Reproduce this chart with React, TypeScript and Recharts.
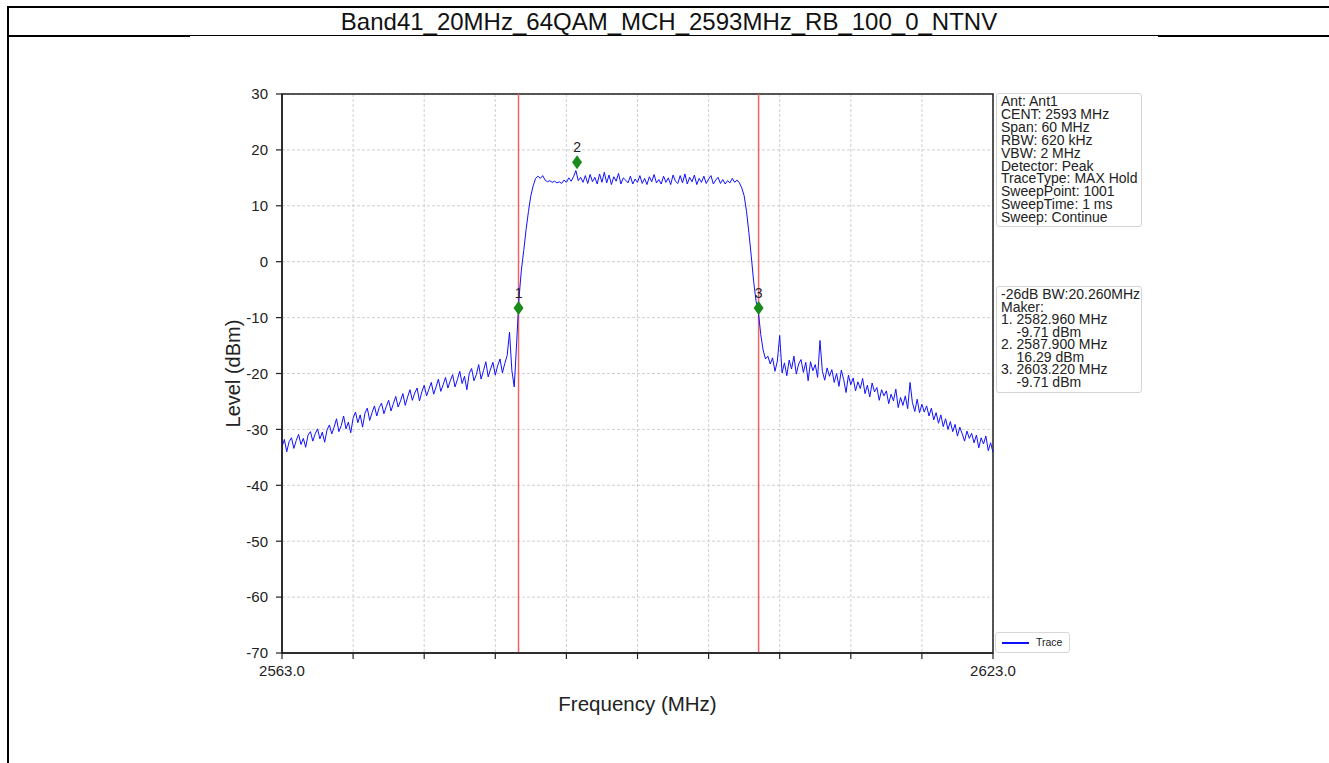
import React from 'react';
import {
  ComposedChart,
  Line,
  Scatter,
  XAxis,
  YAxis,
  CartesianGrid,
  ReferenceLine,
  ReferenceArea,
} from 'recharts';

const FONT = '"Liberation Sans", Arial, Helvetica, sans-serif';

// Sweep grid of the trace (MHz)
const START_FREQ = 2563;
const STEP = 0.2;

// Trace levels (dBm), 2563.0 .. 2582.6
const lowerSkirt = [
  -33.1, -31.8, -34.0, -32.2, -31.5, -33.4, -32.0, -30.9, -32.7, -31.6,
  -33.2, -31.0, -30.4, -32.1, -30.8, -29.9, -31.7, -30.5, -32.3, -30.1,
  -29.2, -30.8, -29.6, -28.1, -30.4, -29.3, -27.6, -29.9, -28.7, -30.6,
  -28.0, -26.9, -28.8, -27.4, -29.6, -27.1, -26.2, -28.4, -27.0, -25.8,
  -27.6, -26.1, -25.3, -27.2, -25.9, -24.8, -26.7, -25.4, -24.1, -26.0,
  -24.9, -23.6, -25.7, -24.2, -22.9, -24.8, -23.5, -22.6, -24.9, -23.3,
  -22.1, -24.0, -22.8, -21.6, -23.7, -22.4, -21.0, -23.2, -22.0, -20.7,
  -22.6, -21.3, -20.2, -22.4, -21.1, -19.6, -21.8, -20.5, -22.9, -20.0,
  -19.1, -21.3, -20.2, -18.4, -21.0, -19.5, -17.9, -20.6, -19.2, -18.0,
  -20.3, -18.6, -17.4, -19.9, -18.2, -16.8, -12.6, -19.5, -22.4,
];

// 2582.8 .. 2603.4
const channel = [
  -14.5, -6.5, -1.5, 2.0, 5.8, 9.0, 11.8, 13.6, 14.9,
  15.3, 14.9, 15.4, 14.6, 14.3, 14.5, 14.2, 14.4, 14.1, 14.3,
  14.0, 14.6, 14.2, 15.0, 14.4, 15.2, 16.3, 14.5, 15.1, 14.2,
  15.4, 14.0, 15.6, 14.3, 15.1, 13.9, 15.7, 14.2, 16.0, 14.1,
  15.5, 13.8, 15.2, 14.4, 15.8, 13.9, 15.0, 14.6, 14.1, 15.3,
  13.9, 14.8, 14.2, 15.4, 14.0, 14.9, 13.8, 15.2, 14.3, 15.6,
  14.1, 14.7, 13.9, 15.3, 14.2, 15.0, 13.8, 15.5, 14.4, 14.0,
  15.4, 14.1, 15.7, 13.9, 15.1, 14.3, 15.5, 13.8, 14.9, 14.2,
  15.3, 14.0, 14.8, 15.4, 13.9, 14.6, 15.1, 14.0, 14.7, 13.9,
  14.5, 14.1, 14.9, 14.2, 14.6,
  14.1, 13.2, 11.8, 9.0, 5.2, 1.0, -3.5, -7.0, -9.0, -13.0,
];

// 2603.6 .. 2623.0
const upperSkirt = [
  -15.8, -17.4, -16.9, -18.3, -17.2, -19.6, -17.8, -13.2, -19.9, -18.1,
  -20.4, -17.6, -19.2, -16.9, -20.1, -18.3, -17.5, -19.8, -18.0, -21.3,
  -17.9, -19.5, -18.4, -20.7, -14.1, -19.6, -21.2, -19.0, -20.5, -19.3,
  -21.6, -20.0, -22.3, -19.4, -21.1, -23.4, -20.3, -22.0, -20.8, -23.1,
  -21.5, -22.7, -20.9, -23.6, -22.1, -24.2, -21.7, -23.3, -22.5, -24.8,
  -22.9, -24.0, -23.1, -25.4, -23.7, -24.9, -22.8, -26.1, -24.3, -25.7,
  -24.0, -26.3, -21.6, -25.2, -26.8, -24.6, -27.0, -25.5, -26.9, -25.8,
  -27.6, -26.2, -28.3, -27.0, -28.9, -27.4, -29.5, -28.1, -30.0, -28.6,
  -30.4, -29.1, -31.2, -29.6, -30.8, -32.1, -30.3, -31.6, -30.7, -32.4,
  -31.0, -33.3, -31.5, -32.6, -31.2, -33.8, -32.4, -34.1,
];

const levels = [...lowerSkirt, ...channel, ...upperSkirt];
const trace = levels.map((level, i) => ({
  freq: +(START_FREQ + i * STEP).toFixed(1),
  level,
}));

// Markers as drawn
const markerNames = ['1', '2', '3'];
const markerFreqs = [2582.96, 2587.9, 2603.22];
const markerLevels = [-8.3, 17.8, -8.3];
const markers = markerNames.map((name, i) => ({
  name,
  freq: markerFreqs[i],
  level: markerLevels[i],
}));

// -26 dB bandwidth cursors
const cursorFreqs = [2582.96, 2603.22];

const xTicks = [2563, 2569, 2575, 2581, 2587, 2593, 2599, 2605, 2611, 2617, 2623];
const yTicks = [30, 20, 10, 0, -10, -20, -30, -40, -50, -60, -70];

const title = 'Band41_20MHz_64QAM_MCH_2593MHz_RB_100_0_NTNV';

const setupLines = [
  'Ant: Ant1',
  'CENT: 2593 MHz',
  'Span: 60 MHz',
  'RBW: 620 kHz',
  'VBW: 2 MHz',
  'Detector: Peak',
  'TraceType: MAX Hold',
  'SweepPoint: 1001',
  'SweepTime: 1 ms',
  'Sweep: Continue',
];

const markerLines = [
  '-26dB BW:20.260MHz',
  'Maker:',
  '1. 2582.960 MHz',
  '    -9.71 dBm',
  '2. 2587.900 MHz',
  '    16.29 dBm',
  '3. 2603.220 MHz',
  '    -9.71 dBm',
];

const Diamond = (props: any) => {
  const { cx, cy, payload } = props;
  return (
    <g>
      <path
        d={`M${cx},${cy - 7} L${cx + 5},${cy} L${cx},${cy + 7} L${cx - 5},${cy} Z`}
        fill="#1a8a1a"
      />
      <text
        x={cx}
        y={cy - 10}
        textAnchor="middle"
        fontSize={14}
        fontFamily={FONT}
        fill="#222"
      >
        {payload.name}
      </text>
    </g>
  );
};

const YTitle = ({ viewBox }: any) => {
  const x = viewBox.x + 11;
  const y = viewBox.y + viewBox.height / 2;
  return (
    <text
      x={x}
      y={y}
      transform={`rotate(-90, ${x}, ${y})`}
      textAnchor="middle"
      dominantBaseline="central"
      fontSize={20}
      fontFamily={FONT}
      fill="#222"
    >
      Level (dBm)
    </text>
  );
};

const XTitle = ({ viewBox }: any) => (
  <text
    x={viewBox.x + viewBox.width / 2}
    y={viewBox.y + 50}
    textAnchor="middle"
    dominantBaseline="central"
    fontSize={20.5}
    fontFamily={FONT}
    fill="#222"
  >
    Frequency (MHz)
  </text>
);

const infoBox: React.CSSProperties = {
  position: 'absolute',
  left: 996,
  width: 146,
  background: 'rgba(255,255,255,0.9)',
  border: '1px solid #d4d4d4',
  borderRadius: 3,
  fontFamily: FONT,
  fontSize: 14,
  color: '#222',
  padding: '1px 0 0 4px',
  boxSizing: 'border-box',
  whiteSpace: 'pre',
  overflow: 'visible',
};

export default function App() {
  return (
    <div
      style={{
        position: 'absolute',
        left: 0,
        top: 0,
        width: 1329,
        height: 763,
        background: '#fff',
        overflow: 'hidden',
        fontFamily: FONT,
      }}
    >
      {/* report frame */}
      <div style={{ position: 'absolute', left: 7, top: 6, width: 1322, height: 2, background: '#000' }} />
      <div style={{ position: 'absolute', left: 7, top: 6, width: 2, height: 757, background: '#000' }} />
      <div style={{ position: 'absolute', left: 7, top: 35, width: 183, height: 2, background: '#000' }} />
      <div style={{ position: 'absolute', left: 190, top: 35, width: 968, height: 1, background: '#000' }} />
      <div style={{ position: 'absolute', left: 1158, top: 35, width: 171, height: 2, background: '#000' }} />
      <div
        style={{
          position: 'absolute',
          left: 9,
          top: 8,
          width: 1320,
          height: 27,
          lineHeight: '27px',
          textAlign: 'center',
          fontSize: 24,
          color: '#111',
        }}
      >
        {title}
      </div>

      <div style={{ position: 'absolute', left: 0, top: 0 }}>
        <ComposedChart
          width={1329}
          height={763}
          data={trace}
          margin={{ top: 94, right: 336, bottom: 70, left: 222 }}
        >
          <CartesianGrid stroke="#c4c4c4" strokeDasharray="3 2" strokeWidth={0.8} />
          <XAxis
            dataKey="freq"
            type="number"
            domain={[2563, 2623]}
            ticks={xTicks}
            interval={0}
            height={40}
            tickSize={6}
            tickMargin={6}
            tickFormatter={(v: number) => (v === 2563 || v === 2623 ? v.toFixed(1) : '')}
            tick={{ fontSize: 15, fontFamily: FONT, fill: '#222' }}
            axisLine={{ stroke: '#222', strokeWidth: 1.5 }}
            tickLine={{ stroke: '#222', strokeWidth: 1.2 }}
            label={<XTitle />}
          />
          <YAxis
            type="number"
            domain={[-70, 30]}
            ticks={yTicks}
            interval={0}
            width={60}
            tickSize={6}
            tickMargin={8}
            tick={{ fontSize: 15, fontFamily: FONT, fill: '#222' }}
            axisLine={{ stroke: '#222', strokeWidth: 1.5 }}
            tickLine={{ stroke: '#222', strokeWidth: 1.2 }}
            label={<YTitle />}
          />
          <ReferenceArea
            x1={2563}
            x2={2623}
            y1={-70}
            y2={30}
            fill="none"
            stroke="#222"
            strokeWidth={1.5}
          />
          {cursorFreqs.map((f) => (
            <ReferenceLine key={f} x={f} stroke="#f26464" strokeWidth={1.5} />
          ))}
          <Line
            dataKey="level"
            stroke="#1010ff"
            strokeWidth={1}
            dot={false}
            isAnimationActive={false}
          />
          <Scatter data={markers} dataKey="level" shape={Diamond} isAnimationActive={false} />
        </ComposedChart>
      </div>

      <div style={{ ...infoBox, top: 93, height: 134, lineHeight: '12.9px' }}>{setupLines.join('\n')}</div>
      <div style={{ ...infoBox, top: 286, height: 107, lineHeight: '12.5px' }}>{markerLines.join('\n')}</div>

      {/* series legend */}
      <div
        style={{
          position: 'absolute',
          left: 995,
          top: 632,
          width: 75,
          height: 21,
          background: 'rgba(255,255,255,0.9)',
          border: '1px solid #d8d8d8',
          borderRadius: 3,
          boxSizing: 'border-box',
        }}
      >
        <div style={{ position: 'absolute', left: 6, top: 9, width: 27, height: 1.5, background: '#1010ff' }} />
        <div style={{ position: 'absolute', left: 40, top: 3, fontSize: 10.5, lineHeight: '13px', color: '#222' }}>
          Trace
        </div>
      </div>
    </div>
  );
}
